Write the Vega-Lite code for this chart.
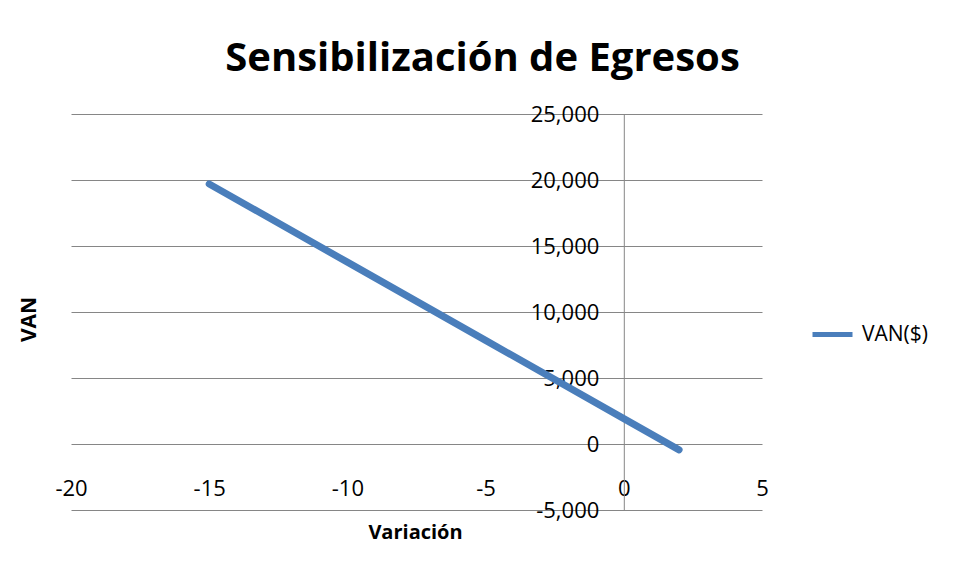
{
  "$schema": "https://vega.github.io/schema/vega-lite/v6.json",
  "width": 691,
  "height": 396,
  "autosize": {"type": "none"},
  "padding": {"left": 71, "top": 114, "right": 202, "bottom": 72},
  "background": "white",
  "title": {
    "text": "Sensibilización de Egresos",
    "font": "Open Sans",
    "fontSize": 40,
    "fontWeight": "bold",
    "color": "#000000",
    "anchor": "middle",
    "frame": "group",
    "dx": 66,
    "baseline": "alphabetic",
    "offset": -8
  },
  "data": {
    "values": [
      {"variacion": -15, "van": 19700, "serie": "VAN($)"},
      {"variacion": -10, "van": 13775, "serie": "VAN($)"},
      {"variacion": -5, "van": 7850, "serie": "VAN($)"},
      {"variacion": 0, "van": 1925, "serie": "VAN($)"},
      {"variacion": 2, "van": -445, "serie": "VAN($)"}
    ]
  },
  "mark": {"type": "line", "strokeWidth": 7, "strokeCap": "round", "strokeJoin": "round"},
  "encoding": {
    "x": {
      "field": "variacion",
      "type": "quantitative",
      "scale": {"domain": [-20, 5], "nice": false, "zero": false},
      "axis": {
        "title": "Variación",
        "values": [-20, -15, -10, -5, 0, 5],
        "labelExpr": "datum.value < 0 ? '-' + format(-datum.value, ',') : format(datum.value, ',')",
        "grid": false,
        "domain": false,
        "ticks": false,
        "offset": -66,
        "labelPadding": 44,
        "labelBaseline": "middle",
        "labelFont": "Open Sans",
        "labelFontSize": 22,
        "labelColor": "#000000",
        "labelFlush": false,
        "titleFont": "Open Sans",
        "titleFontSize": 20,
        "titleFontWeight": "bold",
        "titleColor": "#000000",
        "titleX": 344,
        "titleY": 88,
        "titleBaseline": "middle",
        "titleAlign": "center"
      }
    },
    "y": {
      "field": "van",
      "type": "quantitative",
      "scale": {"domain": [-5000, 25000], "nice": false, "zero": false},
      "axis": {
        "title": "VAN",
        "values": [-5000, 0, 5000, 10000, 15000, 20000, 25000],
        "labelExpr": "datum.value < 0 ? '-' + format(-datum.value, ',') : format(datum.value, ',')",
        "grid": true,
        "gridColor": "#868686",
        "gridWidth": 1,
        "gridOpacity": 1,
        "domain": true,
        "domainColor": "#868686",
        "domainWidth": 1,
        "ticks": false,
        "offset": -552.8,
        "labelPadding": 25,
        "labelBaseline": "middle",
        "labelFont": "Open Sans",
        "labelFontSize": 22,
        "labelColor": "#000000",
        "labelFlush": false,
        "titleFont": "Open Sans",
        "titleFontSize": 21,
        "titleFontWeight": "bold",
        "titleColor": "#000000",
        "titleAngle": -90,
        "titleX": -594,
        "titleY": 205,
        "titleBaseline": "middle",
        "titleAlign": "center"
      }
    },
    "color": {
      "field": "serie",
      "type": "nominal",
      "scale": {"range": ["#4a7ebb"]},
      "legend": {
        "title": null,
        "orient": "none",
        "legendX": 739,
        "legendY": 198,
        "symbolType": "stroke",
        "symbolSize": 1600,
        "symbolStrokeWidth": 5,
        "labelFont": "Open Sans",
        "labelFontSize": 21,
        "labelColor": "#000000",
        "labelOffset": 7
      }
    }
  },
  "config": {"view": {"stroke": null}}
}
